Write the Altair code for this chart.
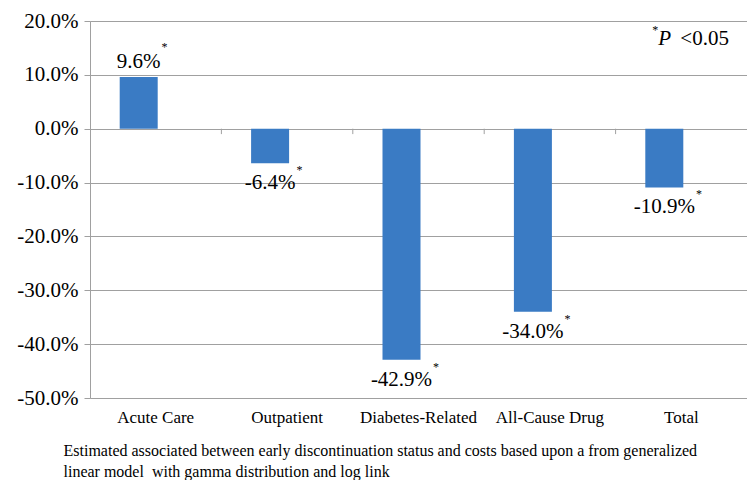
import altair as alt
import pandas as pd

categories = ["Acute Care", "Outpatient", "Diabetes-Related", "All-Cause Drug", "Total"]
values = [9.6, -6.4, -42.9, -34.0, -10.9]
labels = ["9.6%", "-6.4%", "-42.9%", "-34.0%", "-10.9%"]
y_ticks = [20, 10, 0, -10, -20, -30, -40, -50]
x_title = ["Estimated associated between early discontinuation status and costs based upon a from generalized",
           "\u00a0linear model\u00a0 with gamma distribution and log link"]

FONT = "Liberation Serif"
BAR_SHIFT = -17
BAND = 657 / 5
EM = {"0": .5, "1": .5, "2": .5, "3": .5, "4": .5, "5": .5, "6": .5, "7": .5, "8": .5, "9": .5,
      ".": .25, "-": .333, "%": .833}


def half_w(s, size=21):
    return sum(EM.get(c, .5) for c in s) * size / 2


df = pd.DataFrame({"cat": categories, "val": values, "label": labels})
df["star_off"] = [BAND / 2 + BAR_SHIFT + half_w(l) + 4 for l in labels]

ticks_df = pd.DataFrame({"cat": categories[1:]})

x_enc = alt.X("cat:N", sort=categories,
              scale=alt.Scale(paddingInner=0, paddingOuter=0),
              axis=alt.Axis(title=x_title, labelAngle=0, domain=False, ticks=False,
                            labelPadding=11, labelFontSize=17, labelFont=FONT, labelColor="#000",
                            titleFont=FONT, titleFontSize=16, titleFontWeight="normal",
                            titleColor="#000", titleAlign="left", titleBaseline="top",
                            titleX=-27, titleY=44, titleLineHeight=21, grid=False))
y_enc = alt.Y("val:Q", scale=alt.Scale(domain=[-50, 20], nice=False, zero=False),
              axis=alt.Axis(title=None, values=y_ticks,
                            labelExpr="(datum.value < 0 ? '-' : '') + format(abs(datum.value), '.1f') + '%'",
                            labelFont=FONT, labelFontSize=21, labelColor="#000", labelPadding=6,
                            tickSize=6, tickColor="#a0a0a0", domainColor="#a0a0a0",
                            gridColor="#a0a0a0", grid=True))

base = alt.Chart(df)

bars = base.mark_bar(color="#3a7bc4", width=38, xOffset=BAR_SHIFT).encode(x=x_enc, y=y_enc)

lab_pos = base.transform_filter("datum.val >= 0").mark_text(
    font=FONT, fontSize=21, color="#000", baseline="alphabetic", dy=-9, xOffset=BAR_SHIFT
).encode(x=alt.X("cat:N", sort=categories), y="val:Q", text="label:N")
lab_neg = base.transform_filter("datum.val < 0").mark_text(
    font=FONT, fontSize=21, color="#000", baseline="alphabetic", dy=26, xOffset=BAR_SHIFT
).encode(x=alt.X("cat:N", sort=categories), y="val:Q", text="label:N")

star_pos = base.transform_filter("datum.val >= 0").mark_text(
    font=FONT, fontSize=12, color="#000", baseline="alphabetic", dy=-26, align="center"
).encode(x=alt.X("cat:N", sort=categories), y="val:Q", text=alt.value("*"),
         xOffset=alt.XOffset("star_off:Q", scale=None))
star_neg = base.transform_filter("datum.val < 0").mark_text(
    font=FONT, fontSize=12, color="#000", baseline="alphabetic", dy=11, align="center"
).encode(x=alt.X("cat:N", sort=categories), y="val:Q", text=alt.value("*"),
         xOffset=alt.XOffset("star_off:Q", scale=None))

axis_ticks = alt.Chart(ticks_df).mark_rule(color="#a0a0a0", strokeWidth=1).encode(
    x=alt.X("cat:N", sort=categories, bandPosition=0), y=alt.datum(0), y2=alt.datum(-1)
)

note_star = alt.Chart(pd.DataFrame({"t": ["*"]})).mark_text(
    font=FONT, fontSize=12, color="#000", align="center", baseline="alphabetic", dx=-26, dy=-11
).encode(x=alt.XDatum("Total", type="nominal"), y=alt.datum(15.6), text="t:N")
note_p = alt.Chart(pd.DataFrame({"t": ["P"]})).mark_text(
    font=FONT, fontSize=21, fontStyle="italic", color="#000", align="left", baseline="alphabetic", dx=-23
).encode(x=alt.XDatum("Total", type="nominal"), y=alt.datum(15.6), text="t:N")
note_v = alt.Chart(pd.DataFrame({"t": ["<0.05"]})).mark_text(
    font=FONT, fontSize=21, color="#000", align="left", baseline="alphabetic", dx=-1
).encode(x=alt.XDatum("Total", type="nominal"), y=alt.datum(15.6), text="t:N")

chart = alt.layer(bars, axis_ticks, lab_pos, lab_neg, star_pos, star_neg, note_star, note_p, note_v).properties(
    width=657, height=377,
    padding={"left": 82, "top": 13, "right": 0, "bottom": 82},
    autosize="none",
).configure_view(stroke=None).configure(background="white")

chart.save("out.html", embed_options={"renderer": "svg", "actions": False})
